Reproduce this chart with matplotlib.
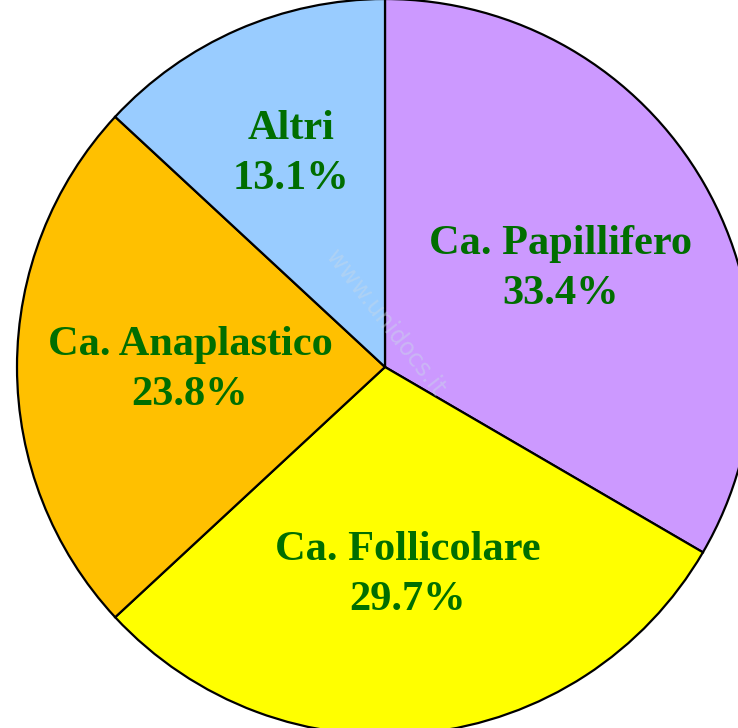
import numpy as np
import matplotlib.pyplot as plt

labels = ['Ca. Papillifero', 'Ca. Follicolare', 'Ca. Anaplastico', 'Altri']
values = [33.4, 29.7, 23.8, 13.1]
colors = ['#CC99FF', '#FFFF00', '#FFC000', '#99CCFF']
label_r = [0.55, 0.56, 0.53, 0.64]

plt.rcParams['font.family'] = ['Liberation Serif', 'DejaVu Serif']

fig = plt.figure(figsize=(7.38, 7.28), dpi=100)
ax = fig.add_axes([0, 0, 1, 1])

cx, cy, r = 385, 361, 368
wedges, _ = ax.pie(values, colors=colors, startangle=90, counterclock=False,
                   center=(cx, cy), radius=r, frame=True,
                   wedgeprops=dict(edgecolor='black', linewidth=1.6))
ax.set_xlim(0, 738)
ax.set_ylim(0, 728)
ax.set_aspect('equal')
ax.axis('off')

for w, lab, v, lr in zip(wedges, labels, values, label_r):
    ang = np.deg2rad((w.theta1 + w.theta2) / 2)
    x = cx + lr * r * np.cos(ang)
    y = cy + lr * r * np.sin(ang)
    ax.text(x, y - 3, f'{lab}\n{v:.1f}%', ha='center', va='center', fontsize=30.5,
            fontweight='bold', color='#006E00', linespacing=1.42)

# faint watermark
ax.text(385, 405, 'www.unidocs.it', rotation=-52, ha='center', va='center',
        fontsize=17, color='#C8D8E8', alpha=0.45, family='DejaVu Sans')

fig.savefig('out.png', dpi=100)
